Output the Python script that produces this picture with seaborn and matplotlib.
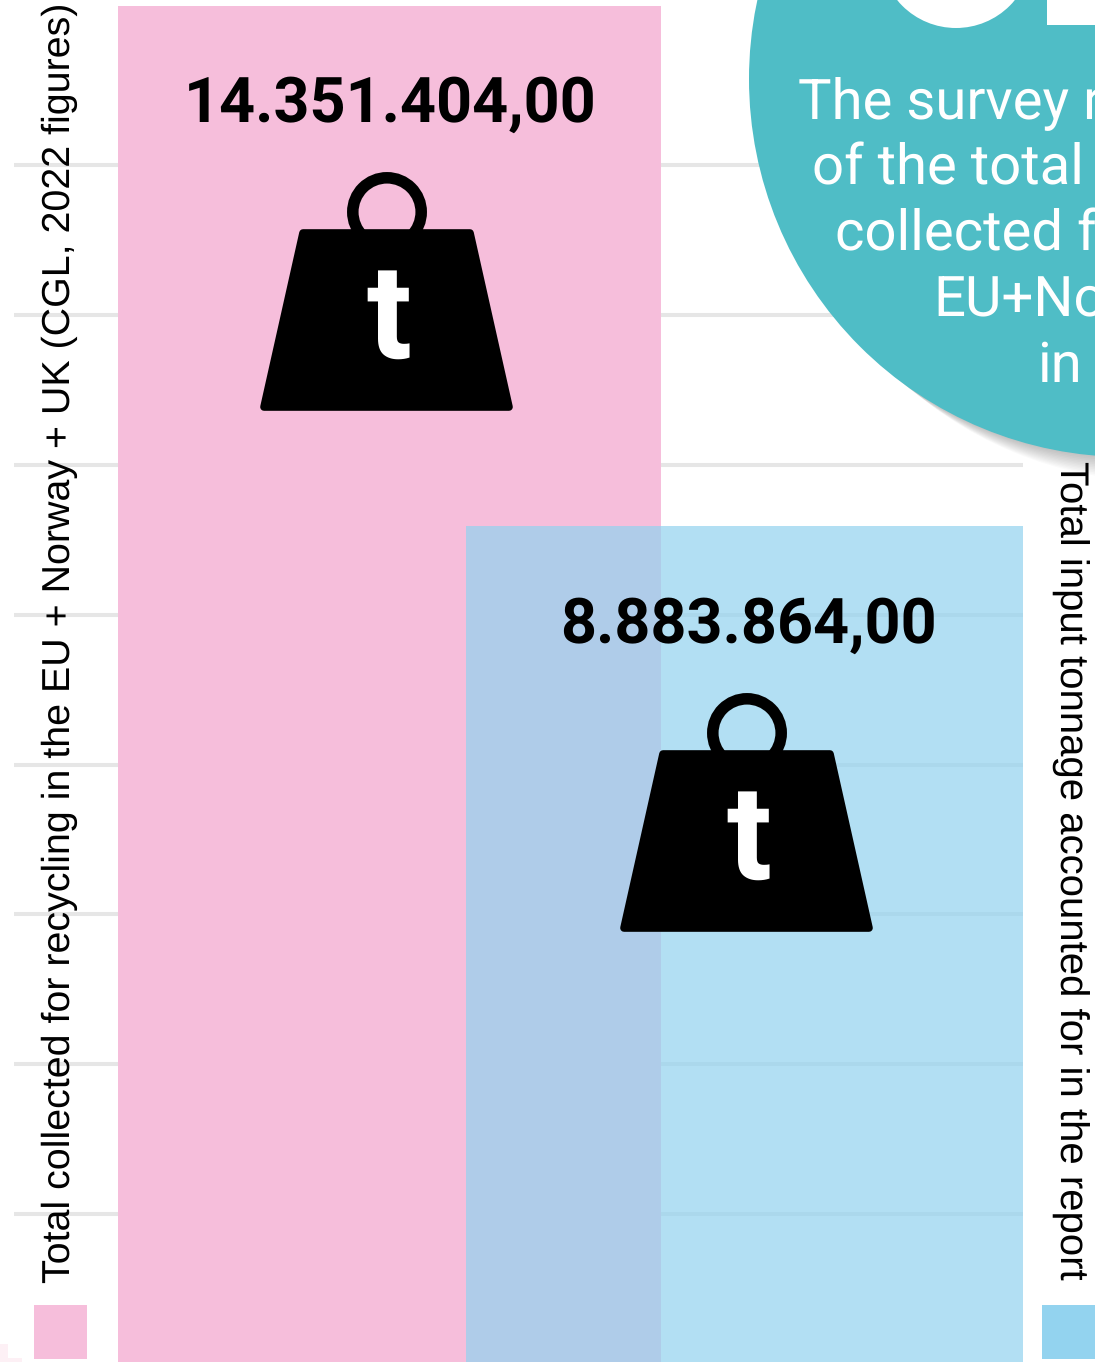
import matplotlib
matplotlib.use("Agg")
import matplotlib.pyplot as plt
from matplotlib.patches import Circle, Polygon, Rectangle
import pandas as pd
import seaborn as sns

# data
sources = ["Total collected", "Accounted for in the report"]
tonnes = [14351404.00, 8883864.00]
grid_values = [1651000, 3228000, 4805000, 6372000, 7949000, 9526000, 11103000, 12680000]
left_label = "Total collected for recycling in the EU + Norway + UK (CGL, 2022 figures)"
right_label = "Total input tonnage accounted for in the report"
circle_lines = ["The survey r", "of the total", "collected f", "EU+No", "in"]

PINK = "#F6BEDB"
BLUE = "#93D3EF"
TEAL = "#4FBDC6"
W, H = 1095, 1362

sns.set_theme(style="white")
plt.rcParams["font.family"] = ["Roboto", "DejaVu Sans"]
plt.rcParams["text.hinting"] = "no_hinting"
plt.rcParams["text.hinting_factor"] = 8

fig = plt.figure(figsize=(W / 100, H / 100), dpi=100)
ax = fig.add_axes([0, 0, 1, 1])

df = pd.DataFrame({"source": sources, "tonnes": tonnes})
sns.barplot(data=df, x="source", y="tonnes", hue="source", order=sources, hue_order=sources,
            palette=[PINK, BLUE], saturation=1, width=1.55, dodge=False, legend=False,
            linewidth=0, ax=ax, zorder=2)

# bars overlap and have different widths in the original
PX_PER_UNIT = 355
pink_bar, blue_bar = ax.containers[0][0], ax.containers[1][0]
pink_bar.set_width(543 / PX_PER_UNIT)
pink_bar.set_x(-543 / PX_PER_UNIT / 2)
blue_bar.set_width(557 / PX_PER_UNIT)
blue_bar.set_x(1 - 557 / PX_PER_UNIT / 2)
blue_bar.set_alpha(0.71)

ax.set_xlim(-389.5 / PX_PER_UNIT, (W - 389.5) / PX_PER_UNIT)
ax.set_ylim(94600, 14415000)
ax.hlines(grid_values, (14 - 389.5) / PX_PER_UNIT, (1023 - 389.5) / PX_PER_UNIT,
          color="#E6E6E6", lw=2.9, zorder=1)
ax.set_xlabel("")
ax.set_ylabel("")
ax.set_xticks([])
ax.set_yticks([])
sns.despine(ax=ax, left=True, bottom=True)

# overlay in pixels for the decoration
ov = fig.add_axes([0, 0, 1, 1], zorder=5)
ov.set_xlim(0, W)
ov.set_ylim(H, 0)
ov.axis("off")


def draw_weight(dx, dy):
    ov.add_patch(Circle((387 + dx, 212 + dy), 34.2, fc="none", ec="black", lw=8.3))
    ov.add_patch(Polygon([(303 + dx, 233 + dy), (470 + dx, 233 + dy), (509 + dx, 407 + dy), (264 + dx, 407 + dy)],
                         closed=True, fc="black", ec="black", lw=5.5, joinstyle="round"))
    ov.text(389 + dx, 358 + dy, "t", color="white", fontsize=96, fontweight="bold",
            ha="center", va="baseline")


def euro_number(v):
    return f"{v:,.2f}".replace(",", "#").replace(".", ",").replace("#", ".")


draw_weight(0, 0)
draw_weight(360, 521)
ov.text(390, 122, euro_number(tonnes[0]), fontsize=45.3, fontweight="bold", color="black", ha="center", va="baseline")
ov.text(748, 643, euro_number(tonnes[1]), fontsize=45.3, fontweight="bold", color="black", ha="center", va="baseline")

# teal circle with soft shadow
CX, CY, R = 1127, 79, 378
for off in range(2, 26, 2):
    ov.add_patch(Circle((CX + off * 1.3, CY + off), R, fc="black", ec="none", alpha=0.018, zorder=2))
ov.add_patch(Circle((CX, CY), R, fc=TEAL, ec="none", zorder=3))
ov.add_patch(Circle((956, -48), 76, fc="white", ec="none", zorder=4))
ov.add_patch(Rectangle((1047, 0), 48, 25, fc="white", ec="none", zorder=4))
for txt, x, y in zip(circle_lines, [798, 812, 835, 933, 1037], [118, 184, 250, 316, 382]):
    ov.text(x, y, txt, color="white", fontsize=40.5, ha="left", va="baseline", zorder=5)

# side labels and their colour squares
ov.text(60, 1283, left_label, rotation=90, family="Liberation Sans", fontsize=28.35, color="black",
        ha="center", va="bottom", zorder=6)
ov.text(1070, 461, right_label, rotation=270, family="Liberation Sans", fontsize=28.9, color="black",
        ha="center", va="top", zorder=6)
ov.add_patch(Rectangle((34, 1305), 53, 54, fc=PINK, ec="none"))
ov.add_patch(Rectangle((1042, 1305), 53, 54, fc=BLUE, ec="none"))
ov.add_patch(Rectangle((0, 1344), 8, 18, fc="#FDF0F5", ec="none"))
ov.add_patch(Rectangle((8, 1358), 14, 4, fc="#FDF0F5", ec="none"))

fig.savefig("out.png", dpi=100)
